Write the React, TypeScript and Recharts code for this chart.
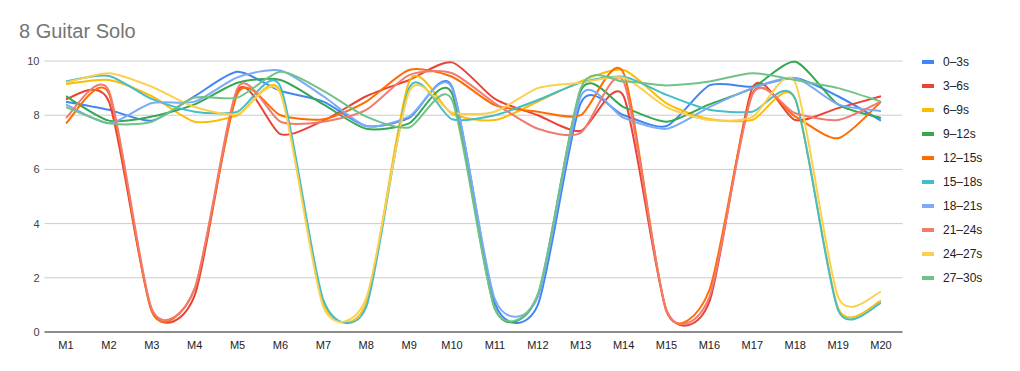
import React from 'react';
import { LineChart, Line, XAxis, YAxis, CartesianGrid } from 'recharts';

const categories = ['M1', 'M2', 'M3', 'M4', 'M5', 'M6', 'M7', 'M8', 'M9', 'M10', 'M11', 'M12', 'M13', 'M14', 'M15', 'M16', 'M17', 'M18', 'M19', 'M20'];

const s0to3 = [8.5, 8.2, 7.8, 8.7, 9.6, 8.9, 8.5, 7.6, 7.9, 9.05, 1.05, 1.0, 8.45, 8.0, 7.6, 9.1, 9.05, 9.37, 8.7, 7.8];
const s3to6 = [8.6, 8.5, 0.8, 1.35, 8.9, 7.3, 7.8, 8.7, 9.3, 9.95, 8.6, 8.0, 7.42, 8.7, 0.8, 1.12, 9.0, 7.82, 8.26, 8.7];
const s6to9 = [9.15, 9.3, 8.7, 7.76, 8.0, 8.87, 1.07, 1.07, 9.24, 8.05, 7.82, 8.5, 9.25, 9.67, 8.44, 7.86, 7.82, 8.6, 0.88, 1.15];
const s9to12 = [8.7, 7.8, 7.95, 8.4, 9.2, 9.3, 8.4, 7.5, 7.7, 8.8, 0.85, 1.35, 8.9, 8.3, 7.76, 8.4, 9.0, 9.97, 8.4, 7.9];
const s12to15 = [7.7, 8.8, 0.75, 1.6, 8.8, 8.0, 7.85, 8.5, 9.67, 9.42, 8.37, 8.13, 8.0, 9.55, 0.75, 1.55, 8.8, 7.95, 7.15, 8.5];
const s15to18 = [9.25, 9.45, 8.6, 8.13, 8.13, 9.05, 1.18, 0.93, 9.0, 7.85, 8.0, 8.56, 9.2, 9.42, 8.75, 8.2, 8.13, 8.6, 0.81, 1.07];
const s18to21 = [8.4, 7.7, 8.45, 8.5, 9.4, 9.65, 8.7, 7.6, 7.95, 9.0, 1.2, 1.3, 8.7, 7.9, 7.5, 8.3, 9.0, 9.37, 8.4, 8.15];
const s21to24 = [7.9, 8.9, 0.85, 1.6, 9.0, 7.76, 7.76, 8.2, 9.48, 9.55, 8.44, 7.5, 7.35, 9.24, 0.8, 1.3, 8.75, 8.07, 7.82, 8.5];
const s24to27 = [9.2, 9.55, 9.05, 8.3, 8.04, 8.8, 0.93, 1.25, 8.87, 8.1, 8.13, 9.0, 9.2, 9.38, 8.3, 7.82, 7.93, 9.2, 1.3, 1.49];
const s27to30 = [8.3, 7.7, 7.76, 8.65, 8.65, 9.6, 8.9, 7.95, 7.55, 8.56, 0.85, 1.4, 9.0, 9.24, 9.1, 9.24, 9.55, 9.3, 9.0, 8.5];

const seriesNames = ['0–3s', '3–6s', '6–9s', '9–12s', '12–15s', '15–18s', '18–21s', '21–24s', '24–27s', '27–30s'];
const seriesValues = [s0to3, s3to6, s6to9, s9to12, s12to15, s15to18, s18to21, s21to24, s24to27, s27to30];
const seriesColors = ['#4285F4', '#EA4335', '#FBBC04', '#34A853', '#FF6D01', '#46BDC6', '#7BAAF7', '#F07B72', '#FCD04F', '#71C287'];
const yTicks = [0, 2, 4, 6, 8, 10];

const data = categories.map((name, i) => {
  const row: Record<string, string | number> = { name };
  seriesValues.forEach((vals, s) => {
    row[`s${s}`] = vals[i];
  });
  return row;
});

// smooth curve through the points, a bit less loose than catmull-rom
const smoothCurve = (k: number) => (context: any) => {
  let pts: [number, number][] = [];
  return {
    areaStart() {},
    areaEnd() {},
    lineStart() {
      pts = [];
    },
    lineEnd() {
      const n = pts.length;
      if (!n) return;
      context.moveTo(pts[0][0], pts[0][1]);
      for (let i = 0; i < n - 1; i++) {
        const p0 = pts[Math.max(0, i - 1)];
        const p1 = pts[i];
        const p2 = pts[i + 1];
        const p3 = pts[Math.min(n - 1, i + 2)];
        context.bezierCurveTo(
          p1[0] + k * (p2[0] - p0[0]),
          p1[1] + k * (p2[1] - p0[1]),
          p2[0] - k * (p3[0] - p1[0]),
          p2[1] - k * (p3[1] - p1[1]),
          p2[0],
          p2[1]
        );
      }
    },
    point(x: number, y: number) {
      pts.push([+x, +y]);
    },
  };
};

const curve = smoothCurve(0.12);
const font = '"Liberation Sans", Arial, sans-serif';

const App = () => {
  return (
    <div style={{ position: 'absolute', left: 0, top: 0, width: 1020, height: 371, background: '#fff', fontFamily: font }}>
      <div style={{ position: 'absolute', left: 19, top: 21, fontSize: 20, lineHeight: '20px', color: '#757575' }}>
        8 Guitar Solo
      </div>
      <LineChart width={1020} height={371} data={data} margin={{ top: 61, right: 117.5, bottom: 9, left: 0 }}>
        <CartesianGrid vertical={false} stroke="#cccccc" />
        <XAxis
          dataKey="name"
          height={30}
          padding={{ left: 21.5, right: 21.5 }}
          axisLine={{ stroke: '#333333' }}
          tickLine={false}
          tickSize={0}
          tickMargin={9}
          interval={0}
          tick={{ fill: '#222222', fontSize: 11, fontFamily: font }}
        />
        <YAxis
          width={44.5}
          domain={[0, 10]}
          ticks={yTicks}
          axisLine={false}
          tickLine={false}
          tickSize={0}
          tickMargin={5}
          tick={{ fill: '#444444', fontSize: 11, fontFamily: font }}
        />
        {seriesNames.map((n, s) => (
          <Line
            key={n}
            dataKey={`s${s}`}
            name={n}
            type={curve as any}
            stroke={seriesColors[s]}
            strokeWidth={2}
            dot={false}
            activeDot={false}
            isAnimationActive={false}
          />
        ))}
      </LineChart>
      <div style={{ position: 'absolute', left: 922, top: 50 }}>
        {seriesNames.map((n, s) => (
          <div key={n} style={{ display: 'flex', alignItems: 'center', height: 24 }}>
            <div style={{ width: 12, height: 4, background: seriesColors[s], marginRight: 9 }} />
            <span style={{ fontSize: 12, color: '#222222' }}>{n}</span>
          </div>
        ))}
      </div>
    </div>
  );
};

export default App;
